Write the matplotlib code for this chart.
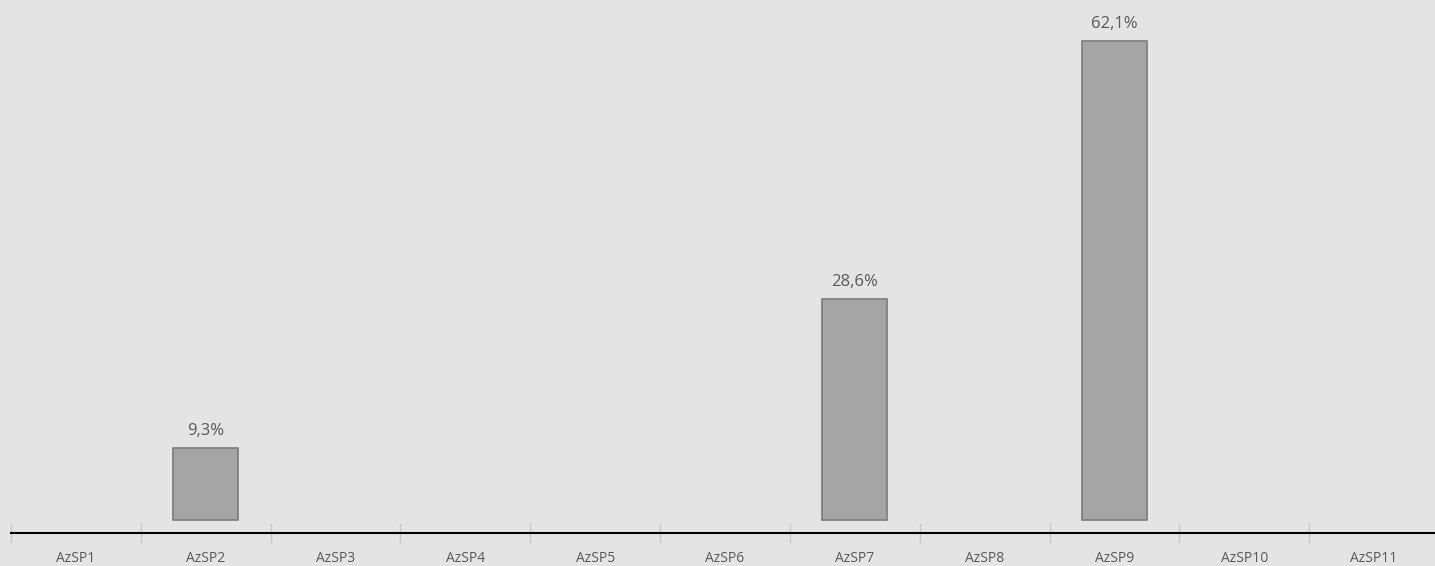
import numpy as np
import matplotlib
matplotlib.use("Agg")
import matplotlib.pyplot as plt

categories = ["AzSP1", "AzSP2", "AzSP3", "AzSP4", "AzSP5", "AzSP6",
              "AzSP7", "AzSP8", "AzSP9", "AzSP10", "AzSP11"]
values = [0, 9.3, 0, 0, 0, 0, 28.6, 0, 62.1, 0, 0]
value_labels = ["", "9,3%", "", "", "", "", "28,6%", "", "62,1%", "", ""]

plt.rcParams['font.family'] = ['Open Sans', 'DejaVu Sans']

bg = "#e4e4e4"
fig = plt.figure(figsize=(14.35, 5.66), dpi=100, facecolor=bg)
ax = fig.add_axes([11 / 1435, 33 / 566, 1428 / 1435, 533 / 566])
ax.set_facecolor(bg)

x = np.arange(len(categories))
# no outline on empty categories
widths = [1.2 if v > 0 else 0 for v in values]
bars = ax.bar(x, values, width=0.5, color="#a5a5a5", edgecolor="#7b7b7b", linewidth=widths)
for rect, lab in zip(bars, value_labels):
    if lab:
        ax.text(rect.get_x() + rect.get_width() / 2, rect.get_height() + 1.2, lab,
                ha="center", va="bottom", fontsize=12, color="#595959")

ax.set_xlim(-0.5, len(categories) - 0.5)
ax.set_ylim(-1.686, 67.42)

for s in ["top", "right", "left"]:
    ax.spines[s].set_visible(False)
ax.spines["bottom"].set_color("black")
ax.spines["bottom"].set_linewidth(1.5)
ax.set_yticks([])

ax.set_xticks(x)
ax.set_xticklabels(categories, fontsize=10, color="#595959")
ax.tick_params(axis="x", which="major", length=0, pad=13)
ax.set_xticks(np.arange(len(categories) + 1) - 0.5, minor=True)
ax.tick_params(axis="x", which="minor", direction="inout", length=15, width=1, color="#c8c8c8")

fig.savefig("out.png", dpi=100, facecolor=bg)
